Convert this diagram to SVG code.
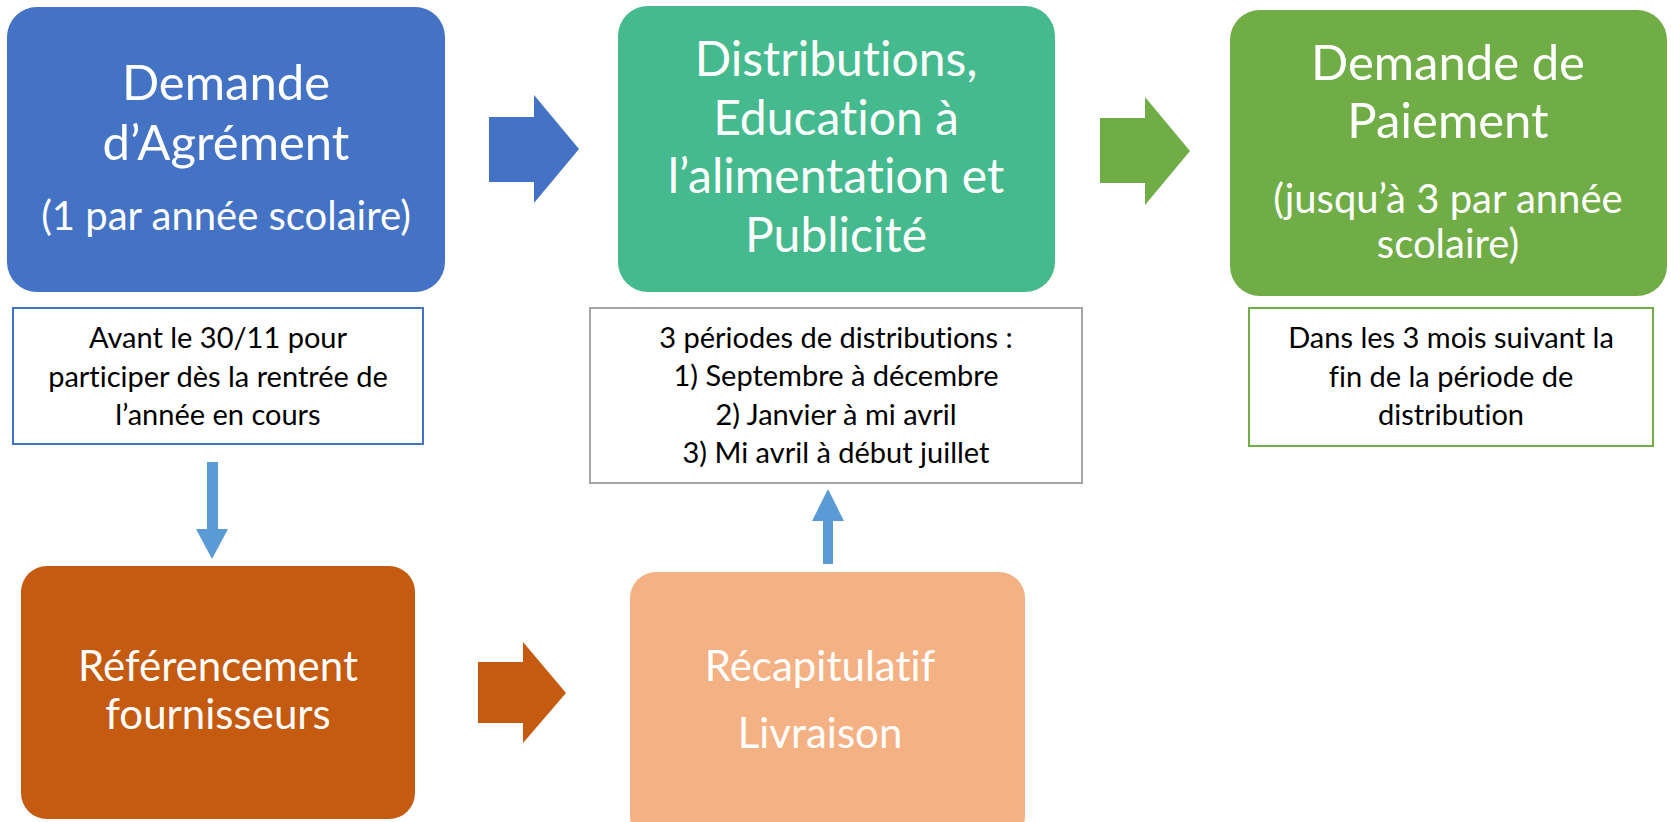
<svg xmlns="http://www.w3.org/2000/svg" width="1671" height="822" viewBox="0 0 1671 822">
<style>
text{font-variant-ligatures:none;font-feature-settings:"liga" 0}
.big{font-family:Lato,"Liberation Sans",sans-serif;fill:#fff;text-anchor:middle}
.small{font-family:Lato,"Liberation Sans",sans-serif;fill:#000;text-anchor:middle;font-size:29px}
.note{fill:#fff;stroke-width:2}
</style>
<rect width="1671" height="822" fill="#fff"/>
<g id="connectors">
<polygon points="489,117 534,117 534,95 579,149 534,203 534,182 489,182" fill="#4472C4"/>
<polygon points="1100,118 1145,118 1145,97 1190,151 1145,205 1145,183 1100,183" fill="#70AD47"/>
<polygon points="478,662 523,662 523,642 566,693 523,743 523,723 478,723" fill="#C55A11"/>
<polygon points="207,462 218,462 218,529 228,529 212,559 196,529 207,529" fill="#5B9BD5"/>
<polygon points="823,564 833,564 833,521 844,521 828,489 812,521 823,521" fill="#5B9BD5"/>
</g>
<g id="n1">
<rect x="7" y="7" width="438" height="285" rx="30" fill="#4472C4"/>
<text class="big" x="226" y="100" font-size="49">Demande</text>
<text class="big" x="226" y="160" font-size="49">d’Agrément</text>
<text class="big" x="226" y="230" font-size="40">(1 par année scolaire)</text>
</g>
<g id="n2">
<rect x="618" y="6" width="437" height="286" rx="30" fill="#45BA8E"/>
<text class="big" x="836" y="76" font-size="48">Distributions,</text>
<text class="big" x="836" y="135" font-size="48">Education à</text>
<text class="big" x="836" y="193" font-size="48">l’alimentation et</text>
<text class="big" x="836" y="252" font-size="48">Publicité</text>
</g>
<g id="n3">
<rect x="1230" y="10" width="437" height="286" rx="30" fill="#70AD47"/>
<text class="big" x="1448" y="80" font-size="49">Demande de</text>
<text class="big" x="1448" y="138" font-size="49">Paiement</text>
<text class="big" x="1448" y="213" font-size="40">(jusqu’à 3 par année</text>
<text class="big" x="1448" y="258" font-size="40">scolaire)</text>
</g>
<g id="note1">
<rect class="note" x="13" y="308" width="410" height="136" stroke="#4472C4"/>
<text class="small" x="218" y="348">Avant le 30/11 pour</text>
<text class="small" x="218" y="387">participer dès la rentrée de</text>
<text class="small" x="218" y="425">l’année en cours</text>
</g>
<g id="note2">
<rect class="note" x="590" y="308" width="492" height="175" stroke="#A5A5A5"/>
<text class="small" x="836" y="348">3 périodes de distributions :</text>
<text class="small" x="836" y="386">1) Septembre à décembre</text>
<text class="small" x="836" y="425">2) Janvier à mi avril</text>
<text class="small" x="836" y="463">3) Mi avril à début juillet</text>
</g>
<g id="note3">
<rect class="note" x="1249" y="308" width="404" height="138" stroke="#70AD47"/>
<text class="small" x="1451" y="348">Dans les 3 mois suivant la</text>
<text class="small" x="1451" y="387">fin de la période de</text>
<text class="small" x="1451" y="425">distribution</text>
</g>
<g id="n4">
<rect x="21" y="566" width="394" height="253" rx="26" fill="#C55A11"/>
<text class="big" x="218" y="681" font-size="42">Référencement</text>
<text class="big" x="218" y="729" font-size="42">fournisseurs</text>
</g>
<g id="n5">
<rect x="630" y="572" width="395" height="270" rx="26" fill="#F4B183"/>
<text class="big" x="820" y="681" font-size="42">Récapitulatif</text>
<text class="big" x="820" y="748" font-size="42">Livraison</text>
</g>
</svg>
